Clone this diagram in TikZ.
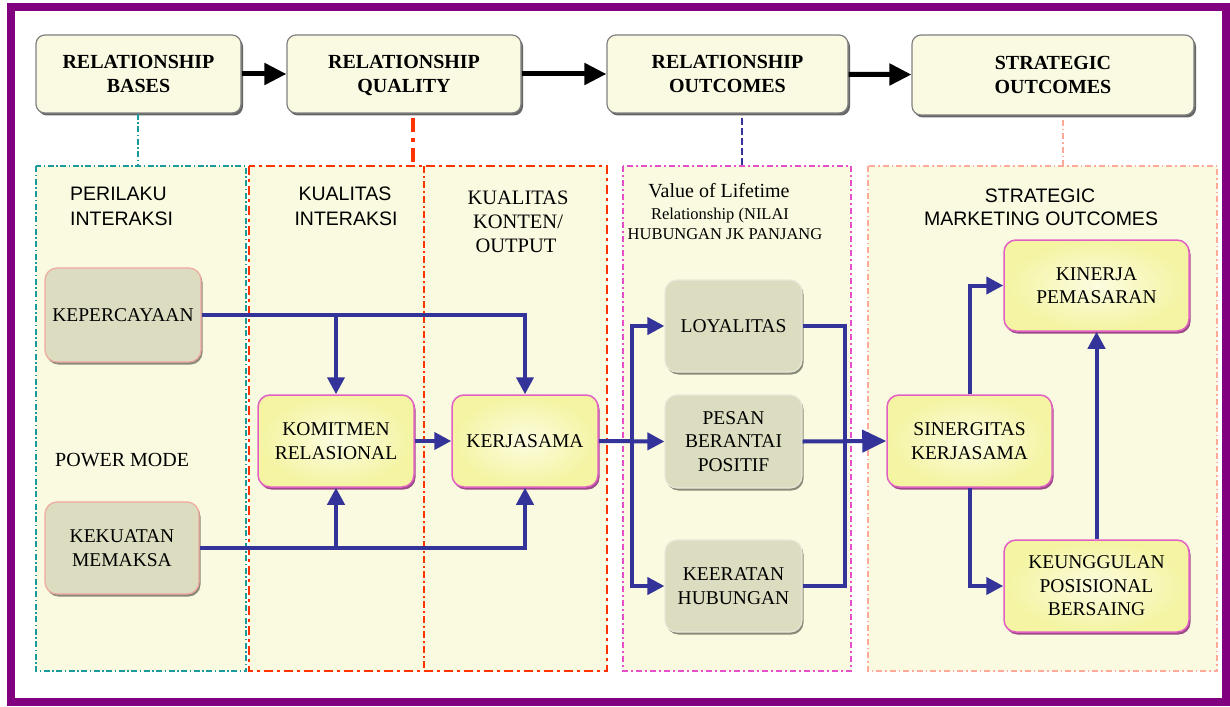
\documentclass[tikz,border=0pt]{standalone}
\usepackage{fontspec}
\setmainfont{Liberation Serif}
\setsansfont{Liberation Sans}
\usetikzlibrary{arrows.meta,shadows,calc}
\definecolor{framepurple}{HTML}{800080}
\definecolor{panelfill}{HTML}{FAFAE0}
\definecolor{topfill}{HTML}{FAFAE2}
\definecolor{tealline}{HTML}{1A9A9A}
\definecolor{redline}{HTML}{FF3300}
\definecolor{magline}{HTML}{E64FC8}
\definecolor{salmonline}{HTML}{FFAA99}
\definecolor{bluecon}{HTML}{333399}
\definecolor{grayfill}{HTML}{DCDCC0}
\definecolor{pinkborder}{HTML}{F0A8A0}
\definecolor{lightborder}{HTML}{E8E8D8}
\definecolor{yelfill}{HTML}{F4F4A2}
\definecolor{yelcenter}{HTML}{FCFCE0}
\definecolor{yelborder}{HTML}{E25FC4}
\definecolor{yelshadow}{HTML}{9A4A86}
\definecolor{grayshadow}{HTML}{8A8A78}
\tikzset{
  topbox/.style={draw=black!50, line width=1.2pt, fill=topfill, rounded corners=9pt,
    drop shadow={shadow xshift=2pt, shadow yshift=-2.5pt, fill=black!60, opacity=1},
    align=center, inner sep=0pt, font=\bfseries\fontsize{20}{24}\selectfont},
  graybox/.style={draw=pinkborder, line width=1.2pt, fill=grayfill, rounded corners=12pt,
    drop shadow={shadow xshift=1.5pt, shadow yshift=-2.5pt, fill=grayshadow, opacity=1},
    align=center, inner sep=0pt, font=\fontsize{19.5}{23.5}\selectfont},
  yelbox/.style={draw=yelborder, line width=1.5pt, inner color=yelcenter, outer color=yelfill,
    rounded corners=12pt,
    drop shadow={shadow xshift=1.5pt, shadow yshift=-2.5pt, fill=yelshadow, opacity=1},
    align=center, inner sep=0pt, font=\fontsize{19.5}{23.5}\selectfont},
  panel/.style={fill=panelfill},
  headsans/.style={anchor=base, inner sep=0pt, font=\sffamily\fontsize{19.5}{24}\selectfont},
  headserif/.style={anchor=base, inner sep=0pt, font=\fontsize{20.5}{24}\selectfont},
  headsmall/.style={anchor=base, inner sep=0pt, font=\fontsize{16.5}{20}\selectfont},
  blackarrow/.style={draw=black, line width=5pt, -{Triangle[length=22pt,width=21pt]}},
  conn/.style={draw=bluecon, line width=4pt},
  bluearrow/.style={conn, -{Triangle[length=17pt,width=17pt]}},
  bigbluearrow/.style={conn, -{Triangle[length=24pt,width=22pt]}},
}
\begin{document}
\begin{tikzpicture}[x=1pt,y=-1pt]
\useasboundingbox (0,0) rectangle (1230,706);
\fill[white] (0,0) rectangle (1230,706);
% frame
\draw[framepurple, line width=8pt] (11,7) rectangle (1226,702);

% panels
\draw[panel, draw=tealline, line width=1.3pt, dash pattern=on 6pt off 2.5pt on 1.5pt off 2.5pt] (36,166) rectangle (246,671);
\draw[panel, draw=redline, line width=2.5pt, dash pattern=on 9pt off 4pt on 3pt off 4pt] (249,166) rectangle (607,671);
\draw[redline, line width=1.5pt, dash pattern=on 7pt off 3pt on 2pt off 3pt] (424,166) -- (424,671);
\draw[panel, draw=magline, line width=1.8pt, dash pattern=on 6pt off 3pt on 2pt off 3pt] (623,166) rectangle (851,671);
\draw[panel, draw=salmonline, line width=1.3pt, dash pattern=on 6pt off 3pt on 1.5pt off 3pt] (868,166) rectangle (1217,671);

% top boxes
\node[topbox, minimum width=205pt, minimum height=78pt] (b1) at (138.5,74) {RELATIONSHIP\\BASES};
\node[topbox, minimum width=234pt, minimum height=78pt] (b2) at (404,74) {RELATIONSHIP\\\raisebox{0pt}[\height][0pt]{QUALITY}};
\node[topbox, minimum width=241pt, minimum height=78pt] (b3) at (727.5,74) {RELATIONSHIP\\OUTCOMES};
\node[topbox, minimum width=282pt, minimum height=80pt] (b4) at (1053,75) {STRATEGIC\\OUTCOMES};

\draw[blackarrow] (b1) -- (b2);
\draw[blackarrow] (b2) -- (b3);
\draw[blackarrow] (b3) -- (b4);

% link lines from top boxes to panels
\coordinate (c1) at (138,166);
\coordinate (c2) at (413,166);
\coordinate (c3) at (742,166);
\coordinate (c4) at (1063,166);
\draw[tealline, line width=1.2pt, dash pattern=on 6pt off 2.5pt on 1.5pt off 2.5pt] (b1.south -| c1) -- (c1);
\draw[redline, line width=4pt, dash pattern=on 14pt off 6pt on 4pt off 6pt] (b2.south -| c2) ++(0,4) -- (c2);
\draw[bluecon, line width=1.2pt, dash pattern=on 7pt off 3pt] (b3.south -| c3) ++(0,4) -- (c3);
\draw[salmonline, line width=1.2pt, dash pattern=on 6pt off 3pt on 1.5pt off 3pt] (b4.south -| c4) ++(0,4) -- (c4);

% panel headings
\node[headsans, anchor=base west] (hA1) at (70,200) {PERILAKU};
\node[headsans, anchor=base west] (hA2) at (70,225) {INTERAKSI};
\node[headsans] (hB1) at (345,200) {KUALITAS};
\node[headsans] (hB2) at (346,225) {INTERAKSI};
\node[headserif] (hC1) at (518,204) {KUALITAS};
\node[headserif] (hC2) at (518,228) {KONTEN/};
\node[headserif] (hC3) at (516,252) {OUTPUT};
\node[headserif, font=\fontsize{20}{24}\selectfont] (hD1) at (719,197) {Value of Lifetime};
\node[headsmall] (hD2) at (720,219) {Relationship (NILAI};
\node[headsmall] (hD3) at (725,239) {HUBUNGAN JK PANJANG};
\node[headsans] (hE1) at (1040,202) {STRATEGIC};
\node[headsans] (hE2) at (1041,225) {MARKETING OUTCOMES};
\node[anchor=base west, inner sep=0pt, font=\fontsize{20}{22}\selectfont] (pm) at (55,466) {POWER MODE};

% gray boxes
\node[graybox, minimum width=156pt, minimum height=94pt] (kep) at (123,315) {KEPERCAYAAN};
\node[graybox, minimum width=154pt, minimum height=92pt] (kek) at (122,548) {KEKUATAN\\MEMAKSA};
\node[graybox, draw=lightborder, minimum width=137pt, minimum height=92pt] (loy) at (733.5,326) {LOYALITAS};
\node[graybox, draw=lightborder, minimum width=137pt, minimum height=93pt] (pes) at (733.5,441.5) {PESAN\\BERANTAI\\POSITIF};
\node[graybox, draw=lightborder, minimum width=137pt, minimum height=92pt] (kee) at (733.5,586) {KEERATAN\\HUBUNGAN};

% yellow boxes
\node[yelbox, minimum width=156pt, minimum height=92pt] (kom) at (336,441) {KOMITMEN\\RELASIONAL};
\node[yelbox, minimum width=146pt, minimum height=92pt] (ker) at (525,441) {KERJASAMA};
\node[yelbox, minimum width=165pt, minimum height=92pt] (sin) at (969.5,441) {SINERGITAS\\KERJASAMA};
\node[yelbox, minimum width=185pt, minimum height=91pt] (kin) at (1096.5,285.5) {KINERJA\\PEMASARAN};
\node[yelbox, minimum width=185pt, minimum height=92pt] (keu) at (1096.5,586) {KEUNGGULAN\\POSISIONAL\\BERSAING};

% blue connectors
\coordinate (j1) at (kep.east -| kom.north);
\coordinate (j2) at (kek.east -| kom.south);
\draw[bluearrow] (kep.east) -| (ker.north);
\draw[bluearrow] (j1) -- (kom.north);
\draw[bluearrow] (kek.east) -| (ker.south);
\draw[bluearrow] (j2) -- (kom.south);
\draw[bluearrow] (kom.east) -- (ker.west);

\coordinate (s1) at (632,441);
\draw[bluearrow] (ker.east) -- (pes.west);
\draw[bluearrow] (s1) |- (loy.west);
\draw[bluearrow] (s1) |- (kee.west);

\coordinate (m1) at (845,441);
\draw[conn] (loy.east) -| (m1);
\draw[conn] (kee.east) -| (m1);
\draw[bigbluearrow] (pes.east) -- (sin.west);

\draw[bluearrow] (sin.north) |- (kin.west);
\draw[bluearrow] (sin.south) |- (keu.west);
\draw[bluearrow] (keu.north) -- (kin.south);
\end{tikzpicture}
\end{document}
